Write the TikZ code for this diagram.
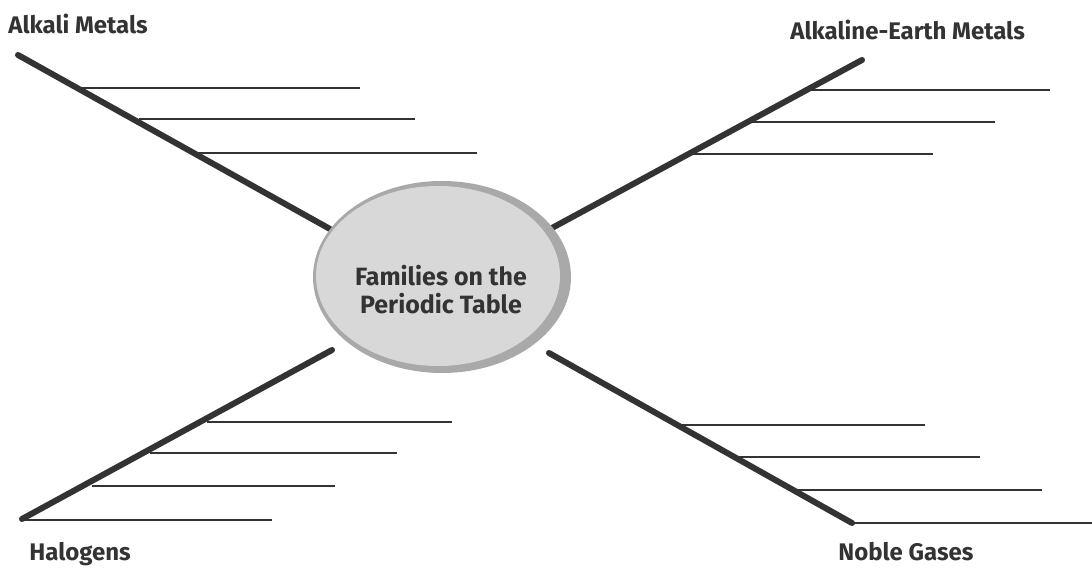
\documentclass[tikz,border=0pt]{standalone}
\usepackage{fontspec}
\setmainfont{Fira Sans}
\usetikzlibrary{shapes.geometric}
\definecolor{ink}{HTML}{333333}
\definecolor{hubfill}{HTML}{D8D8D8}
\definecolor{hubrim}{HTML}{A9A9A9}
\tikzset{
  trunk/.style={draw=ink, line width=3pt, line cap=round},
  twig/.style={draw=ink, line width=0.9pt},
  famlabel/.style={font=\bfseries\fontsize{12}{14}\selectfont, text=ink, inner sep=0pt, anchor=west},
  hub/.style={ellipse, fill=hubfill, minimum width=122pt, minimum height=90pt, inner sep=0pt},
  hubtext/.style={align=center, text=ink, inner sep=0pt, font=\bfseries\fontsize{12.5}{14}\selectfont}
}
\begin{document}
\begin{tikzpicture}[x=0.5pt, y=-0.5pt]
\useasboundingbox (0,0) rectangle (1092,571);
% trunk end points
\coordinate (ulIn) at (330,229);
\coordinate (ulOut) at (18,55);
\coordinate (urIn) at (552,228);
\coordinate (urOut) at (862,60);
\coordinate (llIn) at (332,350);
\coordinate (llOut) at (22,519);
\coordinate (lrIn) at (549,353);
\coordinate (lrOut) at (852,523);
% twigs: start / end
\coordinate (ul1a) at (80,88);   \coordinate (ul1b) at (360,88);
\coordinate (ul2a) at (139,119); \coordinate (ul2b) at (415,119);
\coordinate (ul3a) at (197,153); \coordinate (ul3b) at (477,153);
\coordinate (ur1a) at (807,90);  \coordinate (ur1b) at (1050,90);
\coordinate (ur2a) at (748,122); \coordinate (ur2b) at (995,122);
\coordinate (ur3a) at (689,154); \coordinate (ur3b) at (933,154);
\coordinate (ll1a) at (207,422); \coordinate (ll1b) at (452,422);
\coordinate (ll2a) at (150,453); \coordinate (ll2b) at (397,453);
\coordinate (ll3a) at (92,486);  \coordinate (ll3b) at (335,486);
\coordinate (ll4a) at (22,520);  \coordinate (ll4b) at (272,520);
\coordinate (lr1a) at (678,425); \coordinate (lr1b) at (925,425);
\coordinate (lr2a) at (735,457); \coordinate (lr2b) at (980,457);
\coordinate (lr3a) at (793,490); \coordinate (lr3b) at (1042,490);
\coordinate (lr4a) at (852,523); \coordinate (lr4b) at (1092,523);
% trunks
\draw[trunk] (ulIn) -- (ulOut);
\draw[trunk] (urIn) -- (urOut);
\draw[trunk] (llIn) -- (llOut);
\draw[trunk] (lrIn) -- (lrOut);
% twigs
\foreach \t in {ul1,ul2,ul3,ur1,ur2,ur3,ll1,ll2,ll3,ll4,lr1,lr2,lr3,lr4}
  \draw[twig] (\t a) -- (\t b);
% hub
\fill[hubrim] (442,277) ellipse (129 and 96);
\node[hub] (hub) at (438,276) {};
\node[hubtext] (title) at (441,290) {Families on the\\Periodic Table};
% labels
\node[famlabel] (alkali) at (8,24) {Alkali Metals};
\node[famlabel] (earth) at (790,30) {Alkaline-Earth Metals};
\node[famlabel] (halo) at (29,554) {Halogens};
\node[famlabel] (noble) at (838,552) {Noble Gases};
\end{tikzpicture}
\end{document}
